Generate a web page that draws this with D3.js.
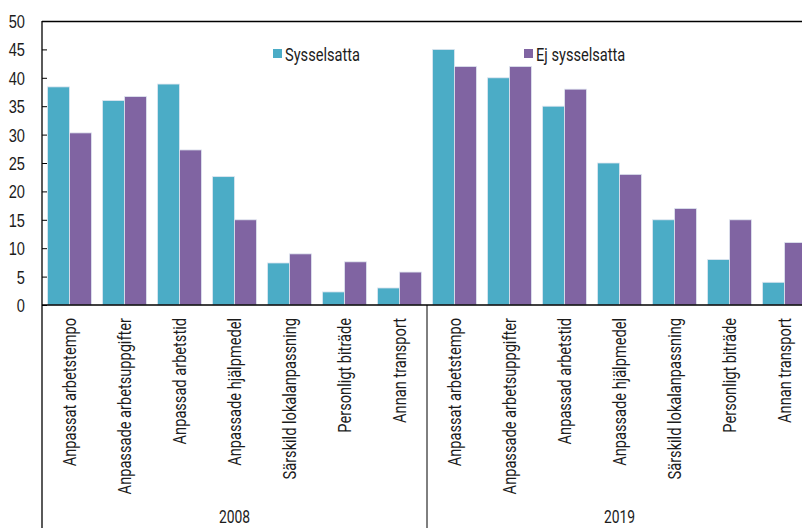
<!DOCTYPE html>
<html>
<head>
<meta charset="utf-8">
<script src="https://cdn.jsdelivr.net/npm/d3@7"></script>
<style>
  body { margin: 0; background: #fff; }
  svg { display: block; font-family: Roboto, "DejaVu Sans Condensed", sans-serif; }
</style>
</head>
<body>
<div id="chart"></div>
<script>
// DATA
const years = ["2008", "2019"];
const categories = [
  "Anpassat arbetstempo",
  "Anpassade arbetsuppgifter",
  "Anpassad arbetstid",
  "Anpassade hjälpmedel",
  "Särskild lokalanpassning",
  "Personligt biträde",
  "Annan transport",
];
const seriesNames = ["Sysselsatta", "Ej sysselsatta"];
const sysselsatta2008 = [38.4, 36.0, 38.9, 22.6, 7.4, 2.3, 3.0];
const ejSysselsatta2008 = [30.3, 36.7, 27.3, 15.0, 9.0, 7.6, 5.8];
const sysselsatta2019 = [45, 40, 35, 25, 15, 8, 4];
const ejSysselsatta2019 = [42, 42, 38, 23, 17, 15, 11];
const yTicks = [0, 5, 10, 15, 20, 25, 30, 35, 40, 45, 50];

const width = 802, height = 528;
const margin = { top: 21, right: -10, bottom: 223, left: 42 };
const colors = ["#4bacc6", "#8064a2"];
const textColor = "#1c1c1c";
const fontSize = 19;
const squeeze = 0.77; // condensed look

const rows = [];
years.forEach((yr, yi) => {
  const a = yi === 0 ? sysselsatta2008 : sysselsatta2019;
  const b = yi === 0 ? ejSysselsatta2008 : ejSysselsatta2019;
  categories.forEach((c, i) => {
    rows.push({ key: yr + "|" + c, year: yr, cat: c, values: [a[i], b[i]] });
  });
});

const svg = d3.select("#chart").append("svg")
  .attr("width", width).attr("height", height);

const x0 = margin.left, x1 = width - margin.right;
const yTop = margin.top, yBot = height - margin.bottom;

const xScale = d3.scaleBand().domain(rows.map(d => d.key)).range([x0, x1]);
const xSub = d3.scaleBand().domain([0, 1]).range([0, xScale.bandwidth()]).paddingOuter(0.25).paddingInner(0);
const yScale = d3.scaleLinear().domain([0, 50]).range([yBot, yTop]);
const yearScale = d3.scaleBand().domain(years).range([x0, x1]);

// bars
const groups = svg.append("g").selectAll("g").data(rows).join("g")
  .attr("transform", d => `translate(${xScale(d.key)},0)`);
groups.selectAll("rect").data(d => d.values.map((v, i) => ({ v, i }))).join("rect")
  .attr("x", d => xSub(d.i))
  .attr("width", xSub.bandwidth())
  .attr("y", d => yScale(d.v))
  .attr("height", d => yBot - yScale(d.v))
  .attr("fill", d => colors[d.i])
  .attr("stroke", "#dfe6f0")
  .attr("stroke-width", 0.8);

// frame lines
const line = "#000";
svg.append("line").attr("x1", x0).attr("x2", width).attr("y1", yTop + 0.5).attr("y2", yTop + 0.5).attr("stroke", line).attr("stroke-width", 1.3);
svg.append("line").attr("x1", x0).attr("x2", width).attr("y1", yBot).attr("y2", yBot).attr("stroke", line).attr("stroke-width", 1.3);
svg.append("line").attr("x1", x0).attr("x2", x0).attr("y1", yTop).attr("y2", height).attr("stroke", line).attr("stroke-width", 1.3);
svg.append("line").attr("x1", yearScale("2019")).attr("x2", yearScale("2019")).attr("y1", yBot).attr("y2", height).attr("stroke", line).attr("stroke-width", 1);

// y axis
const yAxis = d3.axisRight(yScale).tickValues(yTicks).tickSize(5).tickFormat(d3.format("d"));
const ya = svg.append("g").attr("transform", `translate(${x0},0)`).call(yAxis);
ya.select(".domain").remove();
ya.selectAll(".tick line").attr("stroke", "#000");
ya.selectAll(".tick text")
  .attr("x", null).attr("dy", null)
  .attr("transform", `translate(-17,6.5) scale(${squeeze},1)`)
  .attr("text-anchor", "end")
  .attr("font-size", fontSize).attr("fill", textColor).attr("font-family", null);

// category labels
svg.append("g").selectAll("text").data(rows).join("text")
  .attr("transform", d => `translate(${xScale(d.key) + xScale.bandwidth() / 2 + 6.5},${yBot + 13}) rotate(-90) scale(${squeeze},1)`)
  .attr("text-anchor", "end")
  .attr("font-size", fontSize)
  .attr("fill", textColor)
  .text(d => d.cat);

// year labels
svg.append("g").selectAll("text").data(years).join("text")
  .attr("transform", d => `translate(${yearScale(d) + yearScale.bandwidth() / 2},523) scale(${squeeze},1)`)
  .attr("text-anchor", "middle")
  .attr("font-size", 18)
  .attr("fill", textColor)
  .text(d => d);

// legend
const legendX = [273, 524];
const lg = svg.append("g").selectAll("g").data(seriesNames).join("g")
  .attr("transform", (d, i) => `translate(${legendX[i]},49)`);
lg.append("rect").attr("width", 9).attr("height", 9).attr("fill", (d, i) => colors[i]);
lg.append("text")
  .attr("transform", `translate(12,11.5) scale(${squeeze},1)`)
  .attr("font-size", fontSize).attr("fill", textColor).text(d => d);
</script>
</body>
</html>
